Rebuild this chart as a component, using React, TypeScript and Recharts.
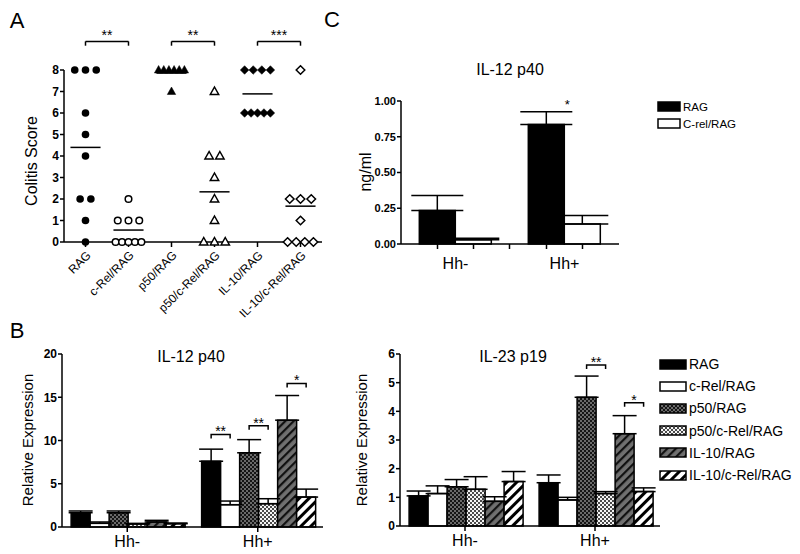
import React from 'react';
import {
  ScatterChart,
  Scatter,
  BarChart,
  Bar,
  XAxis,
  YAxis,
  ErrorBar,
  ReferenceLine,
  LabelList,
} from 'recharts';

// Panel A: colitis scores per mouse
const colitisGroups = ['RAG', 'c-Rel/RAG', 'p50/RAG', 'p50/c-Rel/RAG', 'IL-10/RAG', 'IL-10/c-Rel/RAG'];
const ragScores = [8, 8, 8, 6, 5, 4, 2, 2, 1, 0];
const cRelScores = [2, 1, 1, 1, 0, 0, 0, 0, 0];
const p50Scores = [8, 8, 8, 8, 8, 8, 7];
const p50CRelScores = [7, 4, 4, 3, 2, 1, 0, 0, 0];
const il10Scores = [8, 8, 8, 8, 6, 6, 6, 6, 6];
const il10CRelScores = [8, 2, 2, 2, 1, 0, 0, 0, 0];
const colitisTicks = [0, 1, 2, 3, 4, 5, 6, 7, 8];
const colitisSig = [
  { from: 0, to: 1, at: 9.33, mark: '**' },
  { from: 2, to: 3, at: 9.33, mark: '**' },
  { from: 4, to: 5, at: 9.33, mark: '***' },
];

// Panel B: relative expression, groups Hh- / Hh+
const hhGroups = ['Hh-', 'Hh+'];
const exprNames = ['RAG', 'c-Rel/RAG', 'p50/RAG', 'p50/c-Rel/RAG', 'IL-10/RAG', 'IL-10/c-Rel/RAG'];

const il12Rag = [1.65, 7.6];
const il12CRel = [0.42, 2.58];
const il12P50 = [1.65, 8.58];
const il12P50CRel = [0.35, 2.7];
const il12Il10 = [0.58, 12.35];
const il12Il10CRel = [0.38, 3.46];
const il12RagErr = [0.2, 1.4];
const il12CRelErr = [0.16, 0.42];
const il12P50Err = [0.2, 1.52];
const il12P50CRelErr = [0.07, 0.57];
const il12Il10Err = [0.19, 2.85];
const il12Il10CRelErr = [0.08, 0.92];
const il12Ticks = [0, 5, 10, 15, 20];
const il12Sig = [
  { series: 0, group: 1, at: 10.7, mark: '**' },
  { series: 2, group: 1, at: 11.7, mark: '**' },
  { series: 4, group: 1, at: 16.6, mark: '*' },
];

const il23Rag = [1.05, 1.51];
const il23CRel = [1.13, 0.91];
const il23P50 = [1.37, 4.49];
const il23P50CRel = [1.28, 1.13];
const il23Il10 = [0.86, 3.22];
const il23Il10CRel = [1.55, 1.2];
const il23RagErr = [0.17, 0.27];
const il23CRelErr = [0.27, 0.09];
const il23P50Err = [0.25, 0.74];
const il23P50CRelErr = [0.44, 0.07];
const il23Il10Err = [0.16, 0.63];
const il23Il10CRelErr = [0.35, 0.13];
const il23Ticks = [0, 1, 2, 3, 4, 5, 6];
const il23Sig = [
  { series: 2, group: 1, at: 5.62, mark: '**' },
  { series: 4, group: 1, at: 4.3, mark: '*' },
];

// Panel C: IL-12 p40 protein
const p40Names = ['RAG', 'C-rel/RAG'];
const p40Rag = [0.235, 0.835];
const p40CRel = [0.03, 0.14];
const p40RagErr = [0.105, 0.09];
const p40CRelErr = [0.01, 0.06];
const p40Ticks = [0, 0.25, 0.5, 0.75, 1];
const p40Sig = [{ series: 0, group: 1, at: 1.0, mark: '*' }];

const exprFills = ['#000', '#fff', 'url(#pat-p50)', 'url(#pat-p50crel)', 'url(#pat-il10)', 'url(#pat-il10crel)'];
const p40Fills = ['#000', '#fff'];

const font = '"Liberation Sans", Arial, Helvetica, sans-serif';
const axisStyle = { stroke: '#000', strokeWidth: 1.5 };

function spreadPoints(scores: number[], idx: number) {
  const seen: Record<number, number> = {};
  const counts: Record<number, number> = {};
  scores.forEach((s) => (counts[s] = (counts[s] || 0) + 1));
  return scores.map((s) => {
    const n = counts[s];
    const k = seen[s] || 0;
    seen[s] = k + 1;
    const step = n > 1 ? Math.min(0.25, 0.6 / (n - 1)) : 0;
    return { x: idx + (k - (n - 1) / 2) * step, y: s };
  });
}

const colitisScores = [ragScores, cRelScores, p50Scores, p50CRelScores, il10Scores, il10CRelScores];
const markerKinds = ['circle', 'circle', 'triangle', 'triangle', 'diamond', 'diamond'];
const markerFilled = [true, false, true, false, true, false];

function makeShape(i: number) {
  const kind = markerKinds[i];
  const filled = markerFilled[i];
  const fill = filled ? '#000' : '#fff';
  const sw = filled ? 0 : 1.5;
  return (props: any) => {
    const { cx, cy } = props;
    if (kind === 'circle') {
      return <circle cx={cx} cy={cy} r={filled ? 3.8 : 3.3} fill={fill} stroke="#000" strokeWidth={sw} />;
    }
    if (kind === 'triangle') {
      return (
        <polygon
          points={`${cx},${cy - 4.5} ${cx + 4.2},${cy + 3} ${cx - 4.2},${cy + 3}`}
          fill={fill}
          stroke="#000"
          strokeWidth={filled ? 0.5 : 1.5}
          strokeLinejoin="miter"
        />
      );
    }
    return (
      <polygon
        points={`${cx},${cy - 4.3} ${cx + 4.3},${cy} ${cx},${cy + 4.3} ${cx - 4.3},${cy}`}
        fill={fill}
        stroke="#000"
        strokeWidth={filled ? 0.5 : 1.5}
      />
    );
  };
}

function buildRows(values: number[][], errs: number[][]) {
  return hhGroups.map((g, gi) => {
    const row: any = { group: g };
    values.forEach((v, si) => {
      row['s' + si] = v[gi];
      row['e' + si] = [0, errs[si][gi]];
    });
    return row;
  });
}

const il12Rows = buildRows(
  [il12Rag, il12CRel, il12P50, il12P50CRel, il12Il10, il12Il10CRel],
  [il12RagErr, il12CRelErr, il12P50Err, il12P50CRelErr, il12Il10Err, il12Il10CRelErr]
);
const il23Rows = buildRows(
  [il23Rag, il23CRel, il23P50, il23P50CRel, il23Il10, il23Il10CRel],
  [il23RagErr, il23CRelErr, il23P50Err, il23P50CRelErr, il23Il10Err, il23Il10CRelErr]
);
const p40Rows = buildRows([p40Rag, p40CRel], [p40RagErr, p40CRelErr]);

// bracket from this bar's centre to the next bar's centre, placed at a value on the y scale
function bracketLabel(sigs: any[], seriesIdx: number, bracket = true) {
  return (props: any) => {
    const sig = sigs.find((s) => s.series === seriesIdx && s.group === props.index);
    if (!sig) return null;
    const vb = props.viewBox && props.viewBox.width != null ? props.viewBox : props;
    const { x, y, width, height } = vb;
    const v = Number(props.value);
    if (!v) return null;
    const yb = y + height - (sig.at * height) / v;
    if (!bracket) {
      return (
        <text x={x + width + 3} y={yb + 8} textAnchor="middle" fontSize={13} fill="#000">
          {sig.mark}
        </text>
      );
    }
    const x1 = x + width / 2;
    const x2 = x + width * 1.5;
    return (
      <g>
        <path d={`M${x1},${yb + 4}V${yb}H${x2}V${yb + 4}`} fill="none" stroke="#000" strokeWidth={1.5} />
        <text x={(x1 + x2) / 2} y={yb + 2} textAnchor="middle" fontSize={14} fill="#000">
          {sig.mark}
        </text>
      </g>
    );
  };
}

function Swatch({ fill, w, h }: { fill: string; w: number; h: number }) {
  return (
    <svg width={w + 2} height={h + 2} style={{ display: 'block' }}>
      <rect x={1} y={1} width={w} height={h} fill={fill} stroke="#000" strokeWidth={1.5} />
    </svg>
  );
}

function HtmlLegend(props: {
  names: string[];
  fills: string[];
  left: number;
  top: number;
  rowH: number;
  fontSize: number;
  w: number;
  h: number;
}) {
  const { names, fills, left, top, rowH, fontSize, w, h } = props;
  return (
    <div style={{ position: 'absolute', left, top }}>
      {names.map((n, i) => (
        <div key={n} style={{ display: 'flex', alignItems: 'center', height: rowH, fontSize }}>
          <Swatch fill={fills[i]} w={w} h={h} />
          <span style={{ marginLeft: 2 }}>{n}</span>
        </div>
      ))}
    </div>
  );
}

function CenterText({ cx, cy, size, children, rotate }: any) {
  return (
    <div
      style={{
        position: 'absolute',
        left: cx - 100,
        top: cy - 10,
        width: 200,
        height: 20,
        lineHeight: '20px',
        textAlign: 'center',
        fontSize: size,
        transform: rotate ? 'rotate(-90deg)' : undefined,
        whiteSpace: 'nowrap',
      }}
    >
      {children}
    </div>
  );
}

const yTick = { fill: '#000', fontSize: 12, fontWeight: 'bold' as const };

function P40Tick(props: any) {
  const { x, y, payload, index } = props;
  const axisY = y - 8;
  const offs = index === 0 ? [-18, 18, 54] : [-18, 18];
  return (
    <g>
      {offs.map((o) => (
        <line key={o} x1={x + o} x2={x + o} y1={axisY} y2={axisY + 5} stroke="#000" strokeWidth={1.5} />
      ))}
      <text x={x} y={axisY + 25} textAnchor="middle" fontSize={16} fill="#000">
        {payload.value}
      </text>
    </g>
  );
}

export default function App() {
  const means = colitisScores.map((s) => s.reduce((a, b) => a + b, 0) / s.length);
  return (
    <div
      style={{
        position: 'absolute',
        left: 0,
        top: 0,
        width: 800,
        height: 554,
        background: '#fff',
        fontFamily: font,
        color: '#000',
        overflow: 'hidden',
      }}
    >
      <svg width={0} height={0} style={{ position: 'absolute' }}>
        <defs>
          <pattern id="pat-p50" patternUnits="userSpaceOnUse" width={4} height={4}>
            <rect width={4} height={4} fill="#151515" />
            <rect x={0} y={0} width={2} height={2} fill="#6a6a6a" />
            <rect x={2} y={2} width={2} height={2} fill="#6a6a6a" />
          </pattern>
          <pattern id="pat-p50crel" patternUnits="userSpaceOnUse" width={4} height={4}>
            <rect width={4} height={4} fill="#f4f4f4" />
            <rect x={0} y={0} width={2} height={2} fill="#4a4a4a" />
            <rect x={2} y={2} width={2} height={2} fill="#4a4a4a" />
          </pattern>
          <pattern id="pat-il10" patternUnits="userSpaceOnUse" width={6} height={6} patternTransform="rotate(45)">
            <rect width={6} height={6} fill="#707070" />
            <rect x={0} y={0} width={2.2} height={6} fill="#111" />
          </pattern>
          <pattern id="pat-il10crel" patternUnits="userSpaceOnUse" width={7} height={7} patternTransform="rotate(45)">
            <rect width={7} height={7} fill="#fff" />
            <rect x={0} y={0} width={3} height={7} fill="#000" />
          </pattern>
        </defs>
      </svg>

      <CenterText cx={17} cy={21} size={22}>A</CenterText>
      <CenterText cx={17} cy={331} size={22}>B</CenterText>
      <CenterText cx={332} cy={20} size={22}>C</CenterText>

      {/* Panel A */}
      <div style={{ position: 'absolute', left: 0, top: 0 }}>
        <ScatterChart width={330} height={320} margin={{ top: 70, right: 8, bottom: 18, left: 34 }}>
          <XAxis
            type="number"
            dataKey="x"
            domain={[-0.5, 5.5]}
            ticks={colitisGroups.map((_, i) => i)}
            tickFormatter={(v: number) => colitisGroups[v]}
            interval={0}
            angle={-45}
            textAnchor="end"
            height={60}
            tick={{ fill: '#000', fontSize: 12 }}
            axisLine={axisStyle}
            tickLine={axisStyle}
            tickSize={5}
            tickMargin={3}
          />
          <YAxis
            type="number"
            dataKey="y"
            domain={[0, 8]}
            ticks={colitisTicks}
            interval={0}
            width={30}
            tick={yTick}
            axisLine={axisStyle}
            tickLine={axisStyle}
            tickSize={4}
            tickMargin={1}
          />
          {colitisScores.map((s, i) => (
            <Scatter
              key={colitisGroups[i]}
              name={colitisGroups[i]}
              data={spreadPoints(s, i)}
              shape={makeShape(i)}
              isAnimationActive={false}
            />
          ))}
          {means.map((m, i) => (
            <ReferenceLine
              key={'mean' + i}
              segment={[
                { x: i - 0.35, y: m },
                { x: i + 0.35, y: m },
              ]}
              stroke="#000"
              strokeWidth={1.5}
              ifOverflow="visible"
            />
          ))}
          {colitisSig.flatMap((b, i) => [
            <ReferenceLine
              key={'bh' + i}
              segment={[
                { x: b.from, y: b.at },
                { x: b.to, y: b.at },
              ]}
              stroke="#000"
              strokeWidth={1.5}
              ifOverflow="visible"
              label={{ value: b.mark, position: 'top', offset: 1, fontSize: 14, fill: '#000' }}
            />,
            <ReferenceLine
              key={'bl' + i}
              segment={[
                { x: b.from, y: b.at },
                { x: b.from, y: b.at - 0.2 },
              ]}
              stroke="#000"
              strokeWidth={1.5}
              ifOverflow="visible"
            />,
            <ReferenceLine
              key={'br' + i}
              segment={[
                { x: b.to, y: b.at },
                { x: b.to, y: b.at - 0.2 },
              ]}
              stroke="#000"
              strokeWidth={1.5}
              ifOverflow="visible"
            />,
          ])}
        </ScatterChart>
      </div>
      <CenterText cx={32} cy={161} size={16} rotate>Colitis Score</CenterText>

      {/* Panel C */}
      <CenterText cx={510} cy={70} size={16}>IL-12 p40</CenterText>
      <CenterText cx={366} cy={172} size={16} rotate>ng/ml</CenterText>
      <div style={{ position: 'absolute', left: 330, top: 50 }}>
        <BarChart
          width={470}
          height={230}
          data={p40Rows}
          margin={{ top: 51, right: 181, bottom: 6, left: 26 }}
          barGap={0}
          barCategoryGap="16.8%"
        >
          <XAxis
            dataKey="group"
            height={30}
            axisLine={axisStyle}
            tickLine={false}
            tickSize={5}
            tickMargin={3}
            tick={<P40Tick />}
            interval={0}
          />
          <YAxis
            domain={[0, 1]}
            ticks={p40Ticks}
            interval={0}
            width={45}
            tick={{ ...yTick, fontSize: 11 }}
            tickFormatter={(v: number) => v.toFixed(2)}
            axisLine={axisStyle}
            tickLine={axisStyle}
            tickSize={4}
            tickMargin={1}
          />
          {p40Names.map((n, si) => (
            <Bar
              key={n}
              dataKey={'s' + si}
              name={n}
              fill={p40Fills[si]}
              stroke="#000"
              strokeWidth={1.5}
              isAnimationActive={false}
            >
              <ErrorBar dataKey={'e' + si} width={26} stroke="#000" strokeWidth={1.5} direction="y" isAnimationActive={false} />
              <LabelList dataKey={'s' + si} content={bracketLabel(p40Sig, si, false)} />
            </Bar>
          ))}
        </BarChart>
      </div>
      <HtmlLegend names={p40Names} fills={p40Fills} left={657} top={98} rowH={17} fontSize={11.5} w={22} h={9} />

      {/* Panel B left: IL-12 p40 */}
      <CenterText cx={191} cy={357} size={16}>IL-12 p40</CenterText>
      <CenterText cx={28} cy={440} size={15} rotate>Relative Expression</CenterText>
      <div style={{ position: 'absolute', left: 0, top: 340 }}>
        <BarChart
          width={340}
          height={214}
          data={il12Rows}
          margin={{ top: 14, right: 17, bottom: 5, left: 32 }}
          barGap={0}
          barCategoryGap="7%"
        >
          <XAxis
            dataKey="group"
            height={22}
            axisLine={axisStyle}
            tickLine={axisStyle}
            tickSize={5}
            tickMargin={4}
            tick={{ fill: '#000', fontSize: 16 }}
            interval={0}
          />
          <YAxis
            domain={[0, 20]}
            ticks={il12Ticks}
            interval={0}
            width={30}
            tick={yTick}
            axisLine={axisStyle}
            tickLine={axisStyle}
            tickSize={4}
            tickMargin={1}
          />
          {exprNames.map((n, si) => (
            <Bar
              key={n}
              dataKey={'s' + si}
              name={n}
              fill={exprFills[si]}
              stroke="#000"
              strokeWidth={1.5}
              isAnimationActive={false}
            >
              <ErrorBar dataKey={'e' + si} width={12} stroke="#000" strokeWidth={1.5} direction="y" isAnimationActive={false} />
              <LabelList dataKey={'s' + si} content={bracketLabel(il12Sig, si)} />
            </Bar>
          ))}
        </BarChart>
      </div>

      {/* Panel B right: IL-23 p19 */}
      <CenterText cx={513} cy={357} size={16}>IL-23 p19</CenterText>
      <CenterText cx={362} cy={440} size={15} rotate>Relative Expression</CenterText>
      <div style={{ position: 'absolute', left: 340, top: 340 }}>
        <BarChart
          width={460}
          height={214}
          data={il23Rows}
          margin={{ top: 14, right: 140, bottom: 6, left: 30 }}
          barGap={0}
          barCategoryGap="7%"
        >
          <XAxis
            dataKey="group"
            height={22}
            axisLine={axisStyle}
            tickLine={axisStyle}
            tickSize={5}
            tickMargin={4}
            tick={{ fill: '#000', fontSize: 16 }}
            interval={0}
          />
          <YAxis
            domain={[0, 6]}
            ticks={il23Ticks}
            interval={0}
            width={30}
            tick={yTick}
            axisLine={axisStyle}
            tickLine={axisStyle}
            tickSize={4}
            tickMargin={1}
          />
          {exprNames.map((n, si) => (
            <Bar
              key={n}
              dataKey={'s' + si}
              name={n}
              fill={exprFills[si]}
              stroke="#000"
              strokeWidth={1.5}
              isAnimationActive={false}
            >
              <ErrorBar dataKey={'e' + si} width={12} stroke="#000" strokeWidth={1.5} direction="y" isAnimationActive={false} />
              <LabelList dataKey={'s' + si} content={bracketLabel(il23Sig, si)} />
            </Bar>
          ))}
        </BarChart>
      </div>
      <HtmlLegend names={exprNames} fills={exprFills} left={659} top={353} rowH={22.2} fontSize={14} w={26} h={9} />
    </div>
  );
}
